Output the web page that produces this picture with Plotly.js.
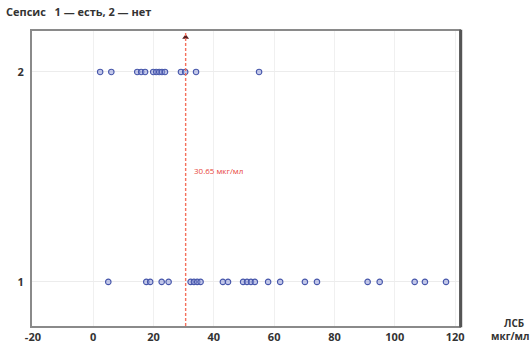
<!DOCTYPE html>
<html>
<head>
<meta charset="utf-8">
<script src="https://cdn.plot.ly/plotly-3.0.1.min.js"></script>
<style>html,body{margin:0;padding:0;background:#fff;}#chart{width:531px;height:349px;}</style>
</head>
<body>
<div id="chart"></div>
<script>
// Sepsis = 2 (no)
const lsbNoSepsis = [2.3, 6.0, 14.6, 15.9, 17.2, 19.9, 20.9, 21.9, 22.8, 23.8, 29.1, 30.5, 34.1, 55.0];
// Sepsis = 1 (yes)
const lsbSepsis = [5.0, 17.6, 18.9, 22.7, 25.0, 32.3, 33.4, 34.5, 35.6, 43.0, 44.7, 49.7, 51.0, 52.3, 53.6, 58.0, 62.0, 70.2, 74.2, 91.0, 95.0, 106.6, 110.0, 117.0];
const threshold = 30.65;
const thresholdLabel = '30.65 мкг/мл';
const xTickVals = [-20, 0, 20, 40, 60, 80, 100, 120];
const yTickVals = [1, 2];
const titleText = 'Сепсис&nbsp;&nbsp;&nbsp;1 — есть, 2 — нет';
const xTitleText = 'ЛСБ&nbsp;&nbsp;<br>мкг/мл';

const yRange = [0.79, 2.195];
const marker = {symbol: 'circle', size: 5.5, color: 'rgba(140,150,215,0.5)', line: {color: '#4656aa', width: 1.1}};

const traces = [
  {x: lsbNoSepsis, y: lsbNoSepsis.map(() => 2), type: 'scatter', mode: 'markers', marker: marker, hoverinfo: 'x'},
  {x: lsbSepsis, y: lsbSepsis.map(() => 1), type: 'scatter', mode: 'markers', marker: marker, hoverinfo: 'x'},
  {x: [threshold], y: [yRange[1] - 0.03], type: 'scatter', mode: 'markers', marker: {symbol: 'triangle-up', size: 6, color: '#5a2020'}, hoverinfo: 'skip'}
];

const font = {family: '"Open Sans", "Noto Sans", sans-serif', color: '#333'};

const layout = {
  width: 531, height: 349,
  margin: {l: 32, r: 72, t: 31, b: 23},
  paper_bgcolor: '#fff', plot_bgcolor: '#fff',
  showlegend: false,
  font: font,
  xaxis: {
    range: [-20.3, 121.3], tickvals: xTickVals, ticktext: xTickVals.map(String),
    showgrid: true, gridcolor: '#f0f0f0', gridwidth: 1, zeroline: false,
    showline: true, linecolor: '#8a8a8a', linewidth: 2, mirror: true,
    ticks: '', tickfont: {size: 11, color: '#333', family: font.family, weight: 'bold'}
  },
  yaxis: {
    range: yRange, tickvals: yTickVals, ticktext: yTickVals.map(String),
    showgrid: true, gridcolor: '#ececec', gridwidth: 1, zeroline: false,
    showline: true, linecolor: '#8a8a8a', linewidth: 2, mirror: true,
    ticks: '', ticklabelstandoff: 4, tickfont: {size: 11, color: '#333', family: font.family, weight: 'bold'}
  },
  shapes: [
    {type: 'line', xref: 'x', yref: 'paper', x0: threshold, x1: threshold, y0: 0, y1: 1,
     line: {color: '#f4705c', width: 1.4, dash: '3px,2px'}},
    {type: 'line', xref: 'paper', yref: 'paper', x0: 1.004, x1: 1.004, y0: -0.004, y1: 1.004,
     line: {color: '#555', width: 3}}
  ],
  annotations: [
    {x: 0, y: 1, xref: 'paper', yref: 'paper', xshift: -28, yshift: 20, xanchor: 'left', yanchor: 'middle',
     text: titleText, showarrow: false, font: {size: 11, color: '#333', family: font.family, weight: 'bold'}},
    {x: 1, y: 0, xref: 'paper', yref: 'paper', xshift: 72, yshift: -3, xanchor: 'right', yanchor: 'middle',
     text: xTitleText, align: 'right', showarrow: false, font: {size: 10, color: '#333', family: font.family, weight: 'bold'}},
    {x: threshold, y: 1.53, xref: 'x', yref: 'y', xshift: 6, xanchor: 'left', yanchor: 'middle',
     text: thresholdLabel, showarrow: false, font: {size: 8, color: '#e8463a', family: font.family}}
  ]
};

Plotly.newPlot('chart', traces, layout, {displayModeBar: false, staticPlot: true});
</script>
</body>
</html>
